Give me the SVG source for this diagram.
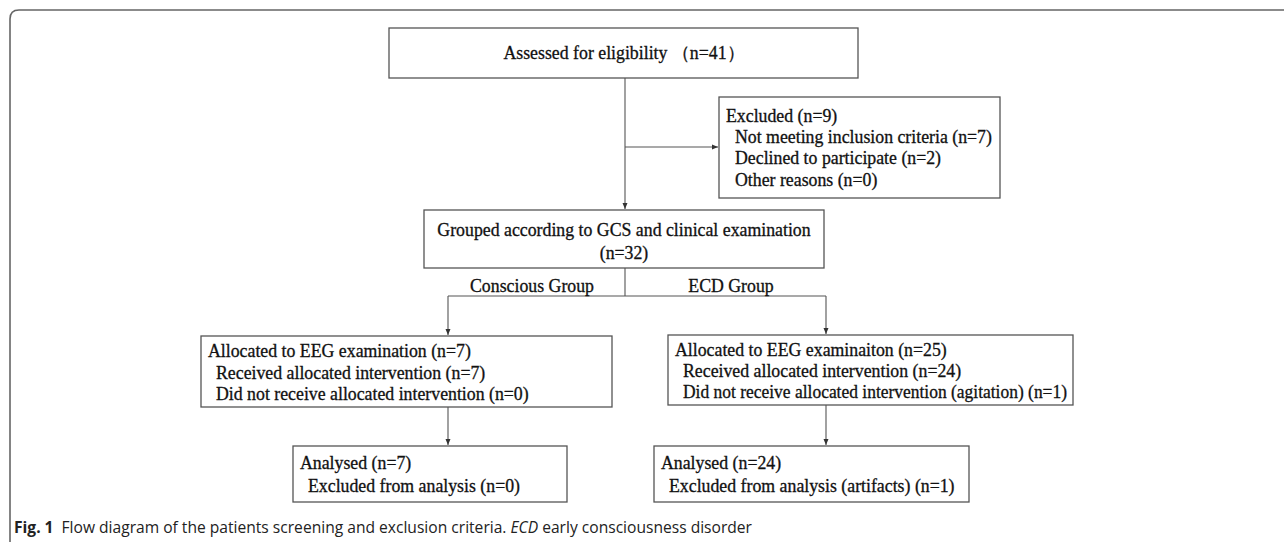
<svg xmlns="http://www.w3.org/2000/svg" width="1284" height="542" viewBox="0 0 1284 542">
<defs>
<marker id="ah" markerWidth="8" markerHeight="8" refX="7" refY="4" orient="auto" markerUnits="userSpaceOnUse">
<path d="M1,1.5 L7,4 L1,6.5 Z" fill="#333"/>
</marker>
<style>
.box{fill:#fff;stroke:#555;stroke-width:1.3}
.t{font-family:"Liberation Serif","Times New Roman",serif;font-size:17.8px;fill:#111;stroke:#111;stroke-width:0.3}
.c{text-anchor:middle}
.ln{stroke:#555;stroke-width:1.1;fill:none}
.cap{font-family:"Open Sans","Noto Sans",sans-serif;font-size:15.6px;fill:#222}
</style>
</defs>
<path d="M10,542 L10,19 Q10,10 19,10 L1284,10" fill="none" stroke="#666" stroke-width="1.6"/>
<g id="connectors">
<line class="ln" x1="625" y1="78" x2="625" y2="209" marker-end="url(#ah)"/>
<line class="ln" x1="625" y1="147" x2="718" y2="147" marker-end="url(#ah)"/>
<line class="ln" x1="625" y1="268" x2="625" y2="296"/>
<line class="ln" x1="448" y1="296" x2="826" y2="296"/>
<line class="ln" x1="448" y1="296" x2="448" y2="335" marker-end="url(#ah)"/>
<line class="ln" x1="826" y1="296" x2="826" y2="334" marker-end="url(#ah)"/>
<line class="ln" x1="448" y1="407" x2="448" y2="445" marker-end="url(#ah)"/>
<line class="ln" x1="826" y1="405" x2="826" y2="445" marker-end="url(#ah)"/>
<text class="t c" x="532" y="292">Conscious Group</text>
<text class="t c" x="731" y="292">ECD Group</text>
</g>
<g id="assessed">
<rect class="box" x="389" y="28" width="469" height="50"/>
<text class="t c" x="624" y="59">Assessed for eligibility （n=41）</text>
</g>
<g id="excluded">
<rect class="box" x="719" y="97" width="281" height="101"/>
<text class="t" x="726" y="122">Excluded (n=9)</text>
<text class="t" x="735" y="143">Not meeting inclusion criteria (n=7)</text>
<text class="t" x="735" y="164">Declined to participate (n=2)</text>
<text class="t" x="735" y="186">Other reasons (n=0)</text>
</g>
<g id="grouped">
<rect class="box" x="424" y="210" width="400" height="58"/>
<text class="t c" x="624" y="236">Grouped according to GCS and clinical examination</text>
<text class="t c" x="624" y="259">(n=32)</text>
</g>
<g id="alloc-conscious">
<rect class="box" x="201" y="336" width="411" height="71"/>
<text class="t" x="208" y="357">Allocated to EEG examination (n=7)</text>
<text class="t" x="216" y="379">Received allocated intervention (n=7)</text>
<text class="t" x="216" y="400">Did not receive allocated intervention (n=0)</text>
</g>
<g id="alloc-ecd">
<rect class="box" x="668" y="335" width="405" height="70"/>
<text class="t" x="675" y="356">Allocated to EEG examinaiton (n=25)</text>
<text class="t" x="683" y="377">Received allocated intervention (n=24)</text>
<text class="t" x="683" y="398" textLength="384" lengthAdjust="spacingAndGlyphs">Did not receive allocated intervention (agitation) (n=1)</text>
</g>
<g id="analysed-conscious">
<rect class="box" x="293" y="446" width="274" height="56"/>
<text class="t" x="300" y="469">Analysed (n=7)</text>
<text class="t" x="308" y="492">Excluded from analysis (n=0)</text>
</g>
<g id="analysed-ecd">
<rect class="box" x="654" y="446" width="315" height="56"/>
<text class="t" x="661" y="469">Analysed (n=24)</text>
<text class="t" x="669" y="492">Excluded from analysis (artifacts) (n=1)</text>
</g>
<text class="cap" x="14" y="533"><tspan font-weight="bold">Fig. 1</tspan><tspan dx="8">Flow diagram of the patients screening and exclusion criteria. </tspan><tspan font-style="italic">ECD</tspan><tspan> early consciousness disorder</tspan></text>
</svg>
